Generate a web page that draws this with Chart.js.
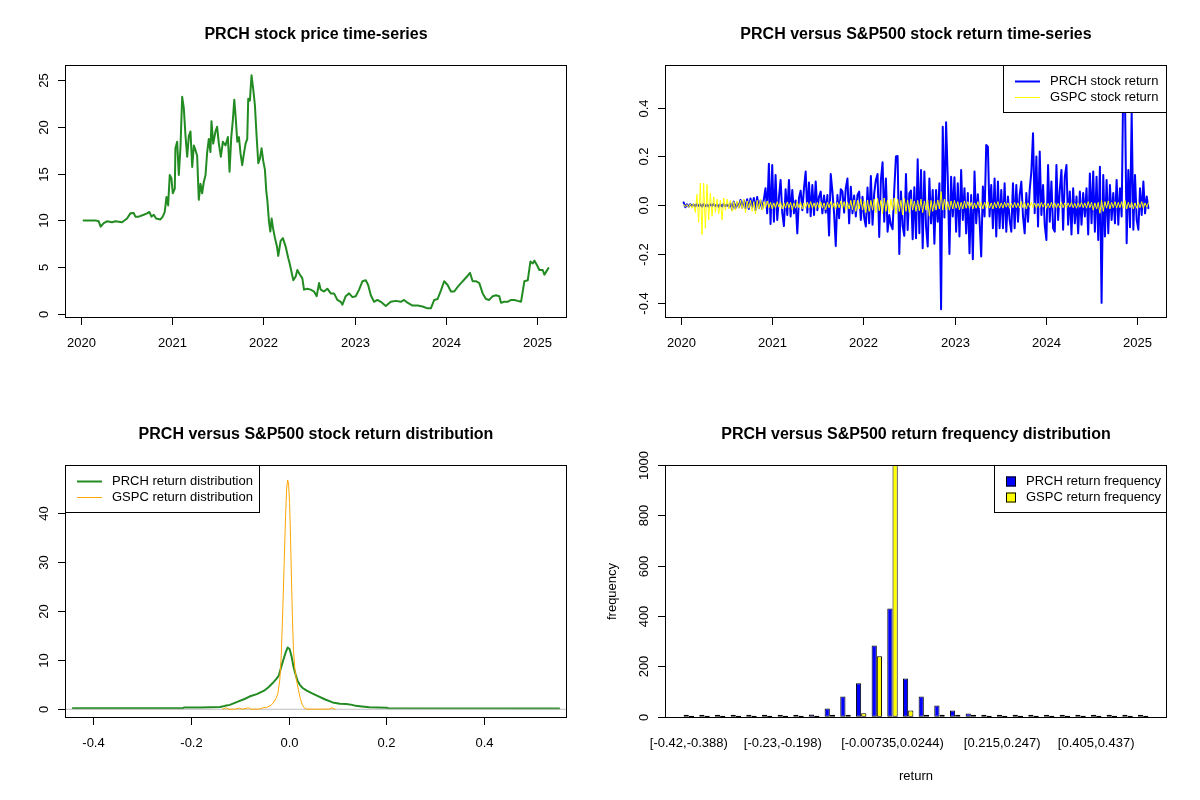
<!DOCTYPE html>
<html lang="en">
<head>
<meta charset="UTF-8">
<title>PRCH versus S&amp;P500</title>
<script src="https://cdn.jsdelivr.net/npm/chart.js"></script>
<style>
  body { margin: 0; background: #fff; }
  #wrap { position: relative; width: 1200px; height: 800px; }
  #wrap canvas { position: absolute; }
</style>
</head>
<body>
<div id="wrap">
  <canvas id="c1" width="600" height="400" style="left:0;top:0"></canvas>
  <canvas id="c2" width="600" height="400" style="left:600px;top:0"></canvas>
  <canvas id="c3" width="600" height="400" style="left:0;top:400px"></canvas>
  <canvas id="c4" width="600" height="400" style="left:600px;top:400px"></canvas>
</div>
<script>
// ---- data ----
const priceYears = [2020.031,2020.159,2020.196,2020.218,2020.251,2020.287,2020.342,2020.379,2020.452,2020.507,
  2020.543,2020.58,2020.598,2020.635,2020.69,2020.726,2020.752,2020.774,2020.8,2020.825,
  2020.873,2020.898,2020.92,2020.939,2020.957,2020.975,2020.993,2021.008,2021.03,2021.037,
  2021.056,2021.074,2021.092,2021.111,2021.129,2021.147,2021.166,2021.184,2021.202,2021.221,
  2021.239,2021.257,2021.275,2021.293,2021.312,2021.33,2021.348,2021.367,2021.385,2021.403,
  2021.421,2021.432,2021.451,2021.476,2021.494,2021.513,2021.535,2021.557,2021.586,2021.612,
  2021.63,2021.649,2021.667,2021.682,2021.696,2021.715,2021.733,2021.751,2021.769,2021.787,
  2021.806,2021.824,2021.835,2021.853,2021.871,2021.89,2021.908,2021.926,2021.945,2021.963,
  2021.981,2022.0,2022.018,2022.033,2022.044,2022.062,2022.077,2022.091,2022.106,2022.128,
  2022.15,2022.164,2022.19,2022.215,2022.245,2022.274,2022.289,2022.329,2022.355,2022.373,
  2022.402,2022.428,2022.446,2022.483,2022.519,2022.556,2022.585,2022.611,2022.629,2022.665,
  2022.702,2022.739,2022.775,2022.812,2022.848,2022.867,2022.903,2022.94,2022.977,2023.013,
  2023.05,2023.087,2023.123,2023.149,2023.178,2023.214,2023.251,2023.288,2023.342,2023.397,
  2023.452,2023.507,2023.543,2023.58,2023.635,2023.69,2023.745,2023.8,2023.836,2023.873,
  2023.91,2023.946,2023.982,2024.02,2024.056,2024.092,2024.13,2024.166,2024.195,2024.232,
  2024.265,2024.294,2024.33,2024.367,2024.404,2024.44,2024.476,2024.514,2024.55,2024.586,
  2024.605,2024.641,2024.678,2024.715,2024.751,2024.788,2024.824,2024.843,2024.861,2024.898,
  2024.927,2024.953,2024.97,2025.0,2025.025,2025.062,2025.08,2025.099,2025.124];
const priceValues = [10.0,10.0,9.9,9.33,9.7,9.9,9.8,9.9,9.8,10.2,
  10.75,10.8,10.4,10.4,10.6,10.75,10.9,10.4,10.6,10.2,
  10.1,10.4,10.9,12.5,11.6,14.85,14.5,12.9,13.4,17.7,
  18.4,14.85,17.7,23.2,22.0,19.1,16.8,19.0,19.5,15.7,
  18.0,17.5,16.9,12.2,13.9,12.9,14.1,14.85,17.3,18.7,
  17.3,20.6,18.2,19.5,20.0,18.2,16.8,18.4,18.0,18.9,
  15.2,18.9,20.8,22.9,21.2,18.4,18.9,17.1,15.9,17.1,
  18.2,18.7,23.0,22.8,25.5,24.0,22.3,19.1,16.1,16.6,
  17.7,16.3,15.4,13.1,12.2,9.9,8.8,10.2,9.2,8.1,
  7.2,6.2,7.8,8.1,7.2,5.95,5.4,3.6,4.0,4.7,
  4.2,3.8,2.6,2.7,2.6,2.4,1.9,3.3,2.6,2.4,
  2.7,2.2,2.2,1.5,1.3,1.0,1.9,2.2,1.8,1.9,
  2.6,3.5,3.6,3.1,2.0,1.3,1.5,1.3,0.85,1.3,
  1.4,1.3,1.5,1.2,0.9,0.9,0.8,0.6,0.6,1.5,
  1.6,2.5,3.5,3.1,2.4,2.4,2.9,3.3,3.6,4.0,
  4.4,3.5,3.5,3.3,2.2,1.6,1.5,1.9,2.0,1.9,
  1.2,1.3,1.3,1.5,1.5,1.4,1.3,2.4,3.5,3.6,
  5.6,5.4,5.7,5.2,4.7,4.7,4.2,4.5,4.9];

// daily-ish returns, evenly spaced from retStart to retEnd
const retStart = 2020.031, retEnd = 2025.124;
const prchReturns = [0.012,-0.008,0.004,-0.006,0.005,-0.004,0.003,-0.005,0.006,-0.003,
  0.004,-0.006,0.005,-0.004,0.003,-0.005,0.004,-0.003,0.006,-0.004,
  0.005,-0.006,0.004,-0.005,0.006,-0.004,0.003,-0.006,0.008,-0.018,
  0.015,-0.012,0.01,-0.008,0.022,-0.01,0.02,-0.012,0.025,-0.015,
  0.028,-0.01,0.03,-0.02,0.034,-0.012,0.02,-0.015,0.025,0.07,
  -0.033,0.17,-0.077,0.165,-0.067,0.124,-0.06,0.03,0.104,-0.03,
  -0.085,0.066,-0.04,0.104,-0.046,0.063,-0.033,0.02,-0.115,0.03,
  0.06,-0.02,0.07,0.138,-0.03,0.093,-0.045,0.083,-0.04,0.097,
  -0.02,0.035,0.056,-0.033,0.04,-0.03,0.042,-0.124,0.128,0.056,
  -0.033,-0.167,0.042,-0.053,0.066,0.056,-0.03,0.07,0.11,-0.074,
  0.076,-0.033,0.04,-0.046,0.042,0.056,-0.06,0.035,-0.05,-0.087,
  0.073,-0.074,0.12,-0.08,0.05,0.104,0.128,-0.13,0.104,0.176,
  -0.067,0.11,-0.108,-0.04,-0.08,-0.098,0.063,0.2,0.202,-0.2,
  0.056,-0.085,-0.125,0.128,-0.101,0.049,0.06,-0.139,0.074,-0.135,
  0.189,-0.115,0.145,-0.176,0.138,-0.087,-0.169,0.11,-0.074,0.063,
  -0.158,0.063,-0.067,0.09,-0.426,0.322,-0.05,0.34,0.11,-0.2,
  0.117,-0.046,0.115,-0.108,0.09,-0.128,0.145,-0.06,0.07,-0.115,
  0.05,-0.197,0.042,-0.221,0.138,-0.074,0.045,-0.06,-0.21,0.077,
  -0.046,0.247,0.24,-0.046,0.083,-0.094,0.11,-0.128,0.097,-0.094,
  0.063,-0.094,0.09,-0.108,0.036,-0.06,-0.108,0.09,-0.094,0.083,
  -0.067,0.042,0.097,-0.046,-0.115,0.05,-0.067,0.063,0.138,0.295,
  -0.033,0.2,-0.087,0.22,-0.04,0.083,-0.08,-0.142,0.165,-0.067,
  0.097,-0.094,-0.108,0.165,-0.06,0.063,0.145,-0.1,0.117,0.165,
  -0.08,0.056,-0.12,0.07,-0.074,0.036,-0.115,0.056,-0.08,0.05,
  -0.046,0.07,-0.12,0.13,-0.074,0.138,-0.108,0.117,-0.142,0.158,
  -0.4,0.124,-0.128,0.104,-0.115,0.083,-0.06,0.05,-0.074,0.104,
  -0.08,0.07,-0.046,0.52,0.45,-0.156,0.145,-0.09,0.38,-0.1,
  0.124,-0.06,-0.1,0.07,-0.04,0.097,-0.033,0.036,-0.012];
const gspcReturns = [0.004,-0.006,0.003,-0.009,0.006,-0.012,0.008,-0.03,0.045,-0.07,
  0.09,-0.12,0.09,-0.095,0.085,-0.06,0.05,-0.045,0.035,-0.03,
  0.025,-0.035,0.02,-0.06,0.03,-0.02,0.025,-0.015,0.02,-0.025,
  0.015,-0.02,0.018,-0.012,0.02,-0.015,0.025,-0.03,0.018,-0.012,
  0.02,-0.025,0.015,-0.035,0.02,-0.015,0.025,-0.02,0.015,-0.012,
  0.018,-0.01,0.012,-0.015,0.01,-0.012,0.015,-0.008,0.012,-0.015,
  0.01,-0.012,0.014,-0.01,0.012,-0.02,0.01,-0.012,0.015,-0.01,
  0.012,-0.015,0.01,-0.012,0.013,-0.01,0.015,-0.012,0.01,-0.014,
  0.012,-0.01,0.014,-0.012,0.01,-0.018,0.012,-0.01,0.015,-0.012,
  0.01,-0.015,0.012,-0.01,0.018,-0.012,0.015,-0.02,0.012,-0.015,
  0.02,-0.018,0.022,-0.025,0.02,-0.015,0.025,-0.02,0.018,-0.03,
  0.022,-0.025,0.02,-0.02,0.025,-0.03,0.028,-0.022,0.02,-0.035,
  0.03,-0.025,0.022,-0.03,0.025,-0.02,0.03,-0.035,0.025,-0.025,
  0.02,-0.04,0.028,-0.025,0.022,-0.03,0.025,-0.02,0.018,-0.025,
  0.02,-0.022,0.025,-0.03,0.018,-0.02,0.022,-0.045,0.02,-0.025,
  0.018,-0.02,0.022,-0.015,0.056,-0.02,0.025,-0.018,0.015,-0.02,
  0.018,-0.015,0.02,-0.012,0.015,-0.018,0.012,-0.015,0.018,-0.012,
  0.015,-0.012,0.012,-0.015,0.01,-0.012,0.015,-0.01,0.012,-0.015,
  0.012,-0.01,0.014,-0.012,0.01,-0.015,0.012,-0.01,0.015,-0.012,
  0.01,-0.012,0.012,-0.008,0.01,-0.012,0.008,-0.01,0.012,-0.01,
  0.01,-0.012,0.015,-0.01,0.012,-0.015,0.01,-0.008,0.012,-0.01,
  0.01,-0.012,0.008,-0.01,0.012,-0.008,0.01,-0.012,0.008,-0.01,
  0.012,-0.01,0.01,-0.012,0.008,-0.01,0.012,-0.01,0.01,-0.012,
  0.01,-0.008,0.012,-0.01,0.008,-0.012,0.01,-0.008,0.012,-0.01,
  0.01,-0.012,0.015,-0.01,0.012,-0.02,0.01,-0.015,0.012,-0.033,
  0.02,-0.025,0.015,-0.012,0.018,-0.015,0.012,-0.01,0.015,-0.012,
  0.012,-0.01,0.015,-0.012,0.02,-0.015,0.012,-0.01,0.012,-0.015,
  0.01,-0.012,0.012,-0.01,0.015,-0.012,0.01,-0.008,0.01];

const prchDensX = [-0.441,-0.3,-0.216,-0.214,-0.18,-0.14,-0.13,-0.12,-0.105,-0.09,-0.08,-0.065,-0.05,-0.04,
  -0.033,-0.025,-0.02,-0.015,-0.01,-0.006,-0.002,0.002,0.006,0.01,0.014,0.018,0.023,0.028,0.037,0.047,
  0.06,0.075,0.09,0.105,0.118,0.13,0.137,0.15,0.165,0.2,0.204,0.553];
const prchDensY = [0.2,0.2,0.2,0.35,0.35,0.45,0.7,0.9,1.5,2.1,2.6,3.1,3.8,4.6,
  5.3,6.2,6.9,8.7,10.3,11.6,12.6,12.3,10.8,8.7,7.2,5.9,5.0,4.4,3.8,3.3,
  2.7,2.0,1.4,1.15,1.1,0.9,0.7,0.55,0.4,0.3,0.2,0.15];
const gspcDensX = [-0.135,-0.128,-0.122,-0.11,-0.1,-0.095,-0.082,-0.077,-0.06,-0.052,-0.045,-0.04,-0.035,-0.03,
  -0.026,-0.022,-0.018,-0.015,-0.012,-0.009,-0.006,-0.004,-0.002,0.0,0.002,0.004,0.006,0.008,0.01,0.013,
  0.016,0.02,0.024,0.028,0.032,0.036,0.05,0.07,0.083,0.088,0.093,0.095];
const gspcDensY = [0.02,0.3,0.02,0.02,0.25,0.02,0.3,0.02,0.05,0.3,0.35,0.6,0.9,1.5,
  2.2,3.2,6,11,20,30,40,45,46.8,46,42,35,26,18,12,8,
  6,4,2.2,0.9,0.3,0.05,0.02,0.02,0.05,0.3,0.05,0.02];

const binLabels = ['[-0.42,-0.388)','[-0.388,-0.356)','[-0.356,-0.325)','[-0.325,-0.293)','[-0.293,-0.261)',
  '[-0.261,-0.23)','[-0.23,-0.198)','[-0.198,-0.166)','[-0.166,-0.134)','[-0.134,-0.103)',
  '[-0.103,-0.0708)','[-0.0708,-0.0391)','[-0.0391,-0.00735)','[-0.00735,0.0244)','[0.0244,0.0561)',
  '[0.0561,0.0879)','[0.0879,0.12)','[0.12,0.151)','[0.151,0.183)','[0.183,0.215)',
  '[0.215,0.247)','[0.247,0.278)','[0.278,0.31)','[0.31,0.342)','[0.342,0.374)',
  '[0.374,0.405)','[0.405,0.437)','[0.437,0.469)','[0.469,0.5)','[0.5,0.532]'];
const shownBins = [0, 6, 13, 20, 26];
const prchFreq = [4,1,1,1,1,1,3,8,9,33,80,133,283,430,152,80,45,25,13,4,4,3,3,3,3,3,3,1,3,1];
const gspcFreq = [0,0,0,0,0,0,0,0,0,5,5,14,240,1000,25,5,4,2,1,0,0,0,0,0,0,0,0,0,0,0];

const yearTicks = [2020, 2021, 2022, 2023, 2024, 2025];
const priceTicks = [0, 5, 10, 15, 20, 25];
const returnTicks = [-0.4, -0.2, 0, 0.2, 0.4];
const returnTickLabels = ['-0.4', '-0.2', '0.0', '0.2', '0.4'];
const densTicks = [0, 10, 20, 30, 40];
const freqTicks = [0, 200, 400, 600, 800, 1000];

// ---- R-style frame: box, outside ticks, rotated y labels, title, legend ----
const FONT = '"Liberation Sans", Arial, sans-serif';
const TXT = '13px ' + FONT;
const rFrame = {
  id: 'rFrame',
  afterDraw(chart, args, o) {
    const ctx = chart.ctx, a = chart.chartArea;
    const xs = chart.scales.x, ys = chart.scales.y;
    ctx.save();
    ctx.fillStyle = '#000';
    ctx.strokeStyle = '#000';
    ctx.lineWidth = 1;

    // legend
    if (o.legend) {
      const L = o.legend;
      const lx = L.align === 'left' ? a.left : a.right - L.width;
      const ly = a.top;
      ctx.fillStyle = '#fff';
      ctx.fillRect(lx, ly, L.width, 48);
      ctx.strokeRect(Math.round(lx) + 0.5, ly + 0.5, L.width - 1, 47);
      ctx.font = TXT;
      ctx.textAlign = 'left';
      ctx.textBaseline = 'middle';
      L.items.forEach((it, i) => {
        const cy = ly + 16.5 + i * 16;
        if (it.box) {
          ctx.fillStyle = it.color;
          ctx.fillRect(lx + 12, cy - 5, 10, 10);
          ctx.strokeRect(lx + 12.5, cy - 4.5, 9, 9);
        } else {
          ctx.strokeStyle = it.color;
          ctx.lineWidth = it.width;
          ctx.beginPath();
          ctx.moveTo(lx + 12, cy);
          ctx.lineTo(lx + 37, cy);
          ctx.stroke();
          ctx.strokeStyle = '#000';
          ctx.lineWidth = 1;
        }
        ctx.fillStyle = '#000';
        ctx.fillText(it.text, lx + (it.box ? 32 : 47), cy);
      });
    }

    // box
    ctx.strokeRect(a.left + 0.5, a.top + 0.5, a.right - a.left - 1, a.bottom - a.top - 1);

    ctx.font = TXT;
    ctx.textAlign = 'center';
    ctx.textBaseline = 'middle';
    // x ticks
    o.xTicks.forEach((v, i) => {
      const px = Math.round(xs.getPixelForValue(v)) + 0.5;
      ctx.beginPath();
      ctx.moveTo(px, a.bottom);
      ctx.lineTo(px, a.bottom + 7);
      ctx.stroke();
      ctx.fillText(o.xLabels[i], px, a.bottom + 25);
    });
    // y ticks (labels parallel to the axis)
    o.yTicks.forEach((v, i) => {
      const py = Math.round(ys.getPixelForValue(v)) + 0.5;
      ctx.beginPath();
      ctx.moveTo(a.left - 7, py);
      ctx.lineTo(a.left, py);
      ctx.stroke();
      ctx.save();
      ctx.translate(a.left - 21, py);
      ctx.rotate(-Math.PI / 2);
      ctx.fillText(o.yLabels[i], 0, 0);
      ctx.restore();
    });
    const cx = (a.left + a.right) / 2;
    if (o.xTitle) ctx.fillText(o.xTitle, cx, a.bottom + 58);
    if (o.yTitle) {
      ctx.save();
      ctx.translate(a.left - 53, (a.top + a.bottom) / 2);
      ctx.rotate(-Math.PI / 2);
      ctx.fillText(o.yTitle, 0, 0);
      ctx.restore();
    }
    // title
    ctx.font = 'bold 16px ' + FONT;
    ctx.fillText(o.title, cx, 35);
    ctx.restore();
  }
};

const PAD = { left: 65, right: 33, top: 65, bottom: 82 };
function baseOptions(xr, yr, frame) {
  return {
    responsive: false,
    animation: false,
    events: [],
    layout: { padding: PAD },
    plugins: { legend: { display: false }, tooltip: { enabled: false }, rFrame: frame },
    scales: {
      // ticks are drawn by rFrame; keep the scale's own tick list empty
      x: { type: 'linear', display: false, offset: false, min: xr[0], max: xr[1], afterBuildTicks: s => { s.ticks = []; } },
      y: { type: 'linear', display: false, min: yr[0], max: yr[1] }
    }
  };
}
const lineStyle = { pointRadius: 0, tension: 0, borderJoinStyle: 'round', borderCapStyle: 'round', fill: false };
const pts = (xsArr, ysArr) => xsArr.map((x, i) => ({ x: x, y: ysArr[i] }));
const retX = prchReturns.map((_, i) => retStart + i * (retEnd - retStart) / (prchReturns.length - 1));
const yearRange = [2019.827, 2025.328];

// 1: price
new Chart(document.getElementById('c1'), {
  type: 'line',
  data: { datasets: [Object.assign({ data: pts(priceYears, priceValues), borderColor: '#228B22', borderWidth: 2 }, lineStyle)] },
  options: baseOptions(yearRange, [-0.43, 26.6], {
    title: 'PRCH stock price time-series',
    xTicks: yearTicks, xLabels: yearTicks.map(String),
    yTicks: priceTicks, yLabels: priceTicks.map(String)
  }),
  plugins: [rFrame]
});

// 2: returns
new Chart(document.getElementById('c2'), {
  type: 'line',
  data: { datasets: [
    Object.assign({ data: pts(retX, gspcReturns), borderColor: '#FFFF00', borderWidth: 1, order: 0 }, lineStyle),
    Object.assign({ data: pts(retX, prchReturns), borderColor: '#0000FF', borderWidth: 2, order: 1 }, lineStyle)
  ] },
  options: baseOptions(yearRange, [-0.462, 0.575], {
    title: 'PRCH versus S&P500 stock return time-series',
    xTicks: yearTicks, xLabels: yearTicks.map(String),
    yTicks: returnTicks, yLabels: returnTickLabels,
    legend: { align: 'right', width: 164, items: [
      { text: 'PRCH stock return', color: '#0000FF', width: 2 },
      { text: 'GSPC stock return', color: '#FFFF00', width: 1 }
    ] }
  }),
  plugins: [rFrame]
});

// 3: densities
const densRange = [-0.457, 0.569];
new Chart(document.getElementById('c3'), {
  type: 'line',
  data: { datasets: [
    Object.assign({ data: pts(gspcDensX, gspcDensY), borderColor: '#FFA500', borderWidth: 1, order: 0 }, lineStyle),
    Object.assign({ data: pts(densRange, [0, 0]), borderColor: '#BEBEBE', borderWidth: 1, order: 1 }, lineStyle),
    Object.assign({ data: pts(prchDensX, prchDensY), borderColor: '#228B22', borderWidth: 2, order: 2 }, lineStyle)
  ] },
  options: baseOptions(densRange, [-1.78, 49.86], {
    title: 'PRCH versus S&P500 stock return distribution',
    xTicks: returnTicks, xLabels: returnTickLabels,
    yTicks: densTicks, yLabels: densTicks.map(String),
    legend: { align: 'left', width: 195, items: [
      { text: 'PRCH return distribution', color: '#228B22', width: 2 },
      { text: 'GSPC return distribution', color: '#FFA500', width: 1 }
    ] }
  }),
  plugins: [rFrame]
});

// 4: frequency bars (R barplot beside=TRUE: group k spans [3k+1, 3k+3])
const groupX = binLabels.map((_, k) => 3 * k + 2);
const barStyle = { borderColor: '#000', borderWidth: 1, borderSkipped: false, categoryPercentage: 2 / 3, barPercentage: 1, minBarLength: 2 };
new Chart(document.getElementById('c4'), {
  type: 'bar',
  data: { datasets: [
    Object.assign({ data: pts(groupX, prchFreq), backgroundColor: '#0000FF' }, barStyle),
    Object.assign({ data: pts(groupX, gspcFreq), backgroundColor: '#FFFF00' }, barStyle)
  ] },
  options: baseOptions([-2.56, 93.56], [-5, 1000], {
    title: 'PRCH versus S&P500 return frequency distribution',
    xTicks: [], xLabels: [],
    yTicks: freqTicks, yLabels: freqTicks.map(String),
    xTitle: 'return', yTitle: 'frequency',
    legend: { align: 'right', width: 173, items: [
      { text: 'PRCH return frequency', color: '#0000FF', box: true },
      { text: 'GSPC return frequency', color: '#FFFF00', box: true }
    ] }
  }),
  plugins: [rFrame, {
    id: 'binLabels',
    afterDraw(chart) {
      const ctx = chart.ctx, a = chart.chartArea, xs = chart.scales.x;
      ctx.save();
      ctx.font = TXT;
      ctx.fillStyle = '#000';
      ctx.textAlign = 'center';
      ctx.textBaseline = 'middle';
      shownBins.forEach(k => ctx.fillText(binLabels[k], xs.getPixelForValue(groupX[k]), a.bottom + 25));
      ctx.restore();
    }
  }]
});
</script>
</body>
</html>
